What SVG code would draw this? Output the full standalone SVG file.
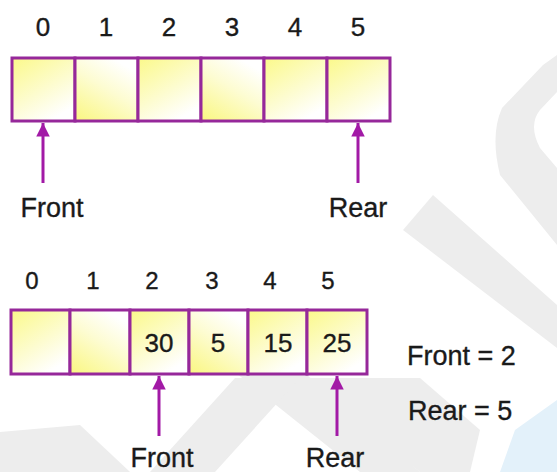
<svg xmlns="http://www.w3.org/2000/svg" width="557" height="472" viewBox="0 0 557 472">
<style>
.cell{stroke:#96289a;stroke-width:3;}
.t{font-family:"Liberation Sans",Arial,sans-serif;fill:#1a1a1a;stroke:#1a1a1a;stroke-width:0.35;text-anchor:middle;}
.idx{font-size:26px;}
.val{font-size:26px;}
.lbl{font-size:27px;}
.arr{stroke:#a21aa6;stroke-width:3;fill:none;}
.wm{fill:#ededed;}
</style>
<defs>
<linearGradient id="g1" x1="0" y1="0" x2="0.6" y2="1">
<stop offset="0" stop-color="#fbf98a"/>
<stop offset="0.6" stop-color="#fdfcd0"/>
<stop offset="1" stop-color="#ffffff"/>
</linearGradient>
<linearGradient id="g2" x1="0" y1="1" x2="0.6" y2="0">
<stop offset="0" stop-color="#faf780"/>
<stop offset="0.6" stop-color="#fdfcd2"/>
<stop offset="1" stop-color="#ffffff"/>
</linearGradient>
<marker id="ah" viewBox="0 0 10 10" refX="10" refY="5" markerWidth="4.5" markerHeight="4.5" orient="auto" markerUnits="strokeWidth">
<path d="M0,0 L10,5 L0,10 z" fill="#a21aa6"/>
</marker>
</defs>
<rect width="557" height="472" fill="#ffffff"/>
<g id="watermark">
<path class="wm" d="M557,55 L543,65 L502,108 Q490,135 500,175 L557,245 L557,168 L540,148 Q528,125 540,110 L557,92 Z"/>
<path class="wm" d="M403,230 L433,195 L557,305 L557,348 Z"/>
<path class="wm" d="M207,350 L237,315 L420,472 L360,472 Z"/>
<path class="wm" d="M235,378 L300,378 L215,472 L150,472 Z"/>
<path class="wm" d="M0,432 L80,425 L130,472 L0,472 Z"/>
<path class="wm" d="M300,378 L420,378 L480,430 L470,472 L420,472 Z"/>
<path d="M515,430 L557,400 L557,472 L500,472 Z" fill="#e3f1fa"/>
</g>
<g id="top-indices">
<text class="t idx" x="43" y="36">0</text>
<text class="t idx" x="106" y="36">1</text>
<text class="t idx" x="169" y="36">2</text>
<text class="t idx" x="232" y="36">3</text>
<text class="t idx" x="295" y="36">4</text>
<text class="t idx" x="358" y="36">5</text>
</g>
<g id="top-array">
<rect class="cell" x="12" y="58" width="63" height="63" fill="url(#g1)"/>
<rect class="cell" x="75" y="58" width="63" height="63" fill="url(#g2)"/>
<rect class="cell" x="138" y="58" width="63" height="63" fill="url(#g1)"/>
<rect class="cell" x="201" y="58" width="63" height="63" fill="url(#g2)"/>
<rect class="cell" x="264" y="58" width="63" height="63" fill="url(#g1)"/>
<rect class="cell" x="327" y="58" width="63" height="63" fill="url(#g1)"/>
</g>
<g id="top-front-label"><text class="t lbl" x="52" y="217">Front</text></g>
<g id="top-rear-label"><text class="t lbl" x="358" y="217">Rear</text></g>
<g id="bottom-indices">
<text class="t idx" x="32" y="289" style="font-size:24px">0</text>
<text class="t idx" x="93" y="289" style="font-size:24px">1</text>
<text class="t idx" x="152" y="289" style="font-size:24px">2</text>
<text class="t idx" x="212" y="289" style="font-size:24px">3</text>
<text class="t idx" x="270" y="289" style="font-size:24px">4</text>
<text class="t idx" x="328" y="289" style="font-size:24px">5</text>
</g>
<g id="bottom-array">
<rect class="cell" x="11" y="310" width="59" height="64" fill="url(#g1)"/>
<rect class="cell" x="70" y="310" width="60" height="64" fill="url(#g2)"/>
<rect class="cell" x="130" y="310" width="59" height="64" fill="url(#g1)"/>
<rect class="cell" x="189" y="310" width="59" height="64" fill="url(#g2)"/>
<rect class="cell" x="248" y="310" width="59" height="64" fill="url(#g1)"/>
<rect class="cell" x="307" y="310" width="60" height="64" fill="url(#g1)"/>
<text class="t val" x="159" y="352">30</text>
<text class="t val" x="218" y="352">5</text>
<text class="t val" x="278" y="352">15</text>
<text class="t val" x="337" y="352">25</text>
</g>
<g id="bottom-front-label"><text class="t lbl" x="162" y="467">Front</text></g>
<g id="bottom-rear-label"><text class="t lbl" x="335" y="467">Rear</text></g>
<g id="state">
<text class="t lbl" x="407" y="365" style="text-anchor:start">Front = 2</text>
<text class="t lbl" x="408" y="420" style="text-anchor:start">Rear = 5</text>
</g>
<g id="connectors">
<line class="arr" x1="43" y1="183" x2="43" y2="123" marker-end="url(#ah)"/>
<line class="arr" x1="358" y1="183" x2="358" y2="123" marker-end="url(#ah)"/>
<line class="arr" x1="159" y1="436" x2="159" y2="376" marker-end="url(#ah)"/>
<line class="arr" x1="337" y1="436" x2="337" y2="376" marker-end="url(#ah)"/>
</g>
</svg>
